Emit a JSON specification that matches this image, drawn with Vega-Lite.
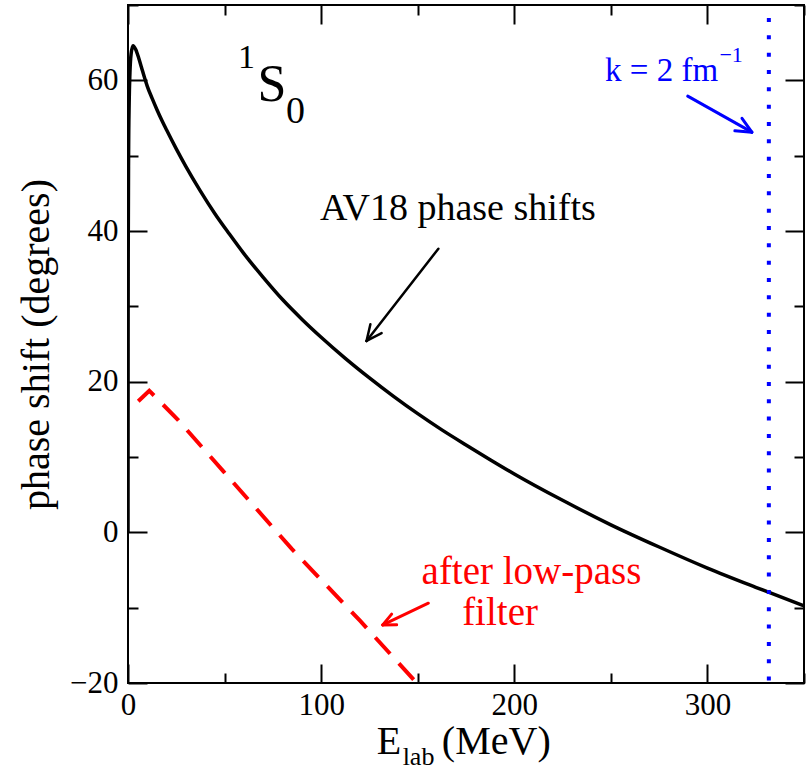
{
  "$schema": "https://vega.github.io/schema/vega-lite/v6.json",
  "width": 676,
  "height": 678,
  "autosize": {"type": "none"},
  "padding": {"left": 128, "top": 5, "right": 8, "bottom": 87},
  "background": "white",
  "config": {
    "view": {"stroke": "black", "strokeWidth": 2},
    "font": "'Liberation Serif', 'Times New Roman', serif"
  },
  "datasets": {
    "av18": [
      {"E": 0, "delta": 0},
      {"E": 0.05, "delta": 25},
      {"E": 0.1, "delta": 36},
      {"E": 0.3, "delta": 50},
      {"E": 0.6, "delta": 57},
      {"E": 1.0, "delta": 61},
      {"E": 1.6, "delta": 63.5},
      {"E": 2.6, "delta": 64.6},
      {"E": 4, "delta": 64.1},
      {"E": 5.5, "delta": 63.0},
      {"E": 7, "delta": 61.7},
      {"E": 8.5, "delta": 60.4},
      {"E": 10, "delta": 59.2},
      {"E": 12.5, "delta": 57.6},
      {"E": 15, "delta": 56.1},
      {"E": 17.5, "delta": 54.7},
      {"E": 20, "delta": 53.4},
      {"E": 25, "delta": 50.9},
      {"E": 30, "delta": 48.55},
      {"E": 37.5, "delta": 45.3},
      {"E": 45, "delta": 42.3},
      {"E": 52.5, "delta": 39.6},
      {"E": 60, "delta": 37.0},
      {"E": 70, "delta": 33.85},
      {"E": 80, "delta": 30.9},
      {"E": 90, "delta": 28.3},
      {"E": 100, "delta": 25.9},
      {"E": 112.5, "delta": 23.1},
      {"E": 125, "delta": 20.5},
      {"E": 137.5, "delta": 18.05},
      {"E": 150, "delta": 15.75},
      {"E": 162.5, "delta": 13.6},
      {"E": 175, "delta": 11.6},
      {"E": 187.5, "delta": 9.65},
      {"E": 200, "delta": 7.75},
      {"E": 225, "delta": 4.25},
      {"E": 250, "delta": 1.0},
      {"E": 275, "delta": -1.95},
      {"E": 300, "delta": -4.75},
      {"E": 325, "delta": -7.3},
      {"E": 350, "delta": -9.75}
    ],
    "filtered": [
      {"E": 5.3, "delta": 17.4},
      {"E": 11, "delta": 18.8},
      {"E": 26, "delta": 14.9},
      {"E": 49.4, "delta": 8.1},
      {"E": 84.8, "delta": -2.2},
      {"E": 120, "delta": -11.7},
      {"E": 149.5, "delta": -20}
    ]
  },
  "layer": [
    {
      "data": {"name": "av18"},
      "mark": {"type": "line", "color": "black", "strokeWidth": 3.5, "interpolate": "monotone", "clip": true},
      "encoding": {
        "x": {
          "field": "E", "type": "quantitative",
          "scale": {"domain": [0, 350], "nice": false, "zero": false},
          "axis": {
            "orient": "bottom",
            "values": [0, 50, 100, 150, 200, 250, 300, 350],
            "tickSize": {"expr": "datum.value % 100 === 0 ? -19 : -10"},
            "tickWidth": 2, "tickColor": "black",
            "domain": false, "grid": false,
            "labelExpr": "datum.value % 100 === 0 ? datum.label : ''",
            "labelFontSize": 31, "labelColor": "black",
            "labelPadding": 26, "labelFlush": false, "labelOverlap": false,
            "title": null
          }
        },
        "y": {
          "field": "delta", "type": "quantitative",
          "scale": {"domain": [-20, 70], "nice": false, "zero": false},
          "axis": {
            "orient": "left",
            "values": [-20, -10, 0, 10, 20, 30, 40, 50, 60, 70],
            "tickSize": {"expr": "datum.value % 20 === 0 ? -19 : -10"},
            "tickWidth": 2, "tickColor": "black",
            "domain": false, "grid": false,
            "labelExpr": "datum.value % 20 === 0 ? datum.label : ''",
            "labelFontSize": 31, "labelColor": "black",
            "labelPadding": 29, "labelFlush": false, "labelOverlap": false,
            "title": "phase shift (degrees)",
            "titleFontSize": 40, "titleFontWeight": "normal", "titleColor": "black",
            "titleAngle": -90, "titleAlign": "center", "titleBaseline": "alphabetic",
            "titleX": -80, "titleY": 339
          }
        }
      }
    },
    {
      "data": {"name": "filtered"},
      "mark": {"type": "line", "color": "#ff0000", "strokeWidth": 4, "strokeDash": [22, 13], "clip": true},
      "encoding": {
        "x": {
          "field": "E", "type": "quantitative",
          "axis": {
            "orient": "top",
            "values": [0, 50, 100, 150, 200, 250, 300, 350],
            "tickSize": {"expr": "datum.value % 100 === 0 ? -19 : -10"},
            "tickWidth": 2, "tickColor": "black",
            "domain": false, "grid": false, "labels": false, "title": null
          }
        },
        "y": {
          "field": "delta", "type": "quantitative",
          "axis": {
            "orient": "right",
            "values": [-20, -10, 0, 10, 20, 30, 40, 50, 60, 70],
            "tickSize": {"expr": "datum.value % 20 === 0 ? -19 : -10"},
            "tickWidth": 2, "tickColor": "black",
            "domain": false, "grid": false, "labels": false, "title": null
          }
        }
      }
    },
    {
      "data": {"values": [{"E": 331.8}]},
      "mark": {"type": "rule", "color": "#0000ff", "strokeWidth": 4, "strokeDash": [4, 13.33], "strokeDashOffset": 4.3},
      "encoding": {
        "x": {"field": "E", "type": "quantitative", "axis": null}
      }
    },
    {
      "data": {"values": [
        {"x1": 160.7, "y1": 37.65, "x2": 123.5, "y2": 25.41},
        {"x1": 131.3, "y1": 26.44, "x2": 123.5, "y2": 25.41},
        {"x1": 125.5, "y1": 27.62, "x2": 123.5, "y2": 25.41}
      ]},
      "mark": {"type": "rule", "color": "black", "strokeWidth": 2.5, "strokeCap": "round"},
      "encoding": {
        "x": {"field": "x1", "type": "quantitative", "axis": null},
        "y": {"field": "y1", "type": "quantitative", "axis": null},
        "x2": {"field": "x2"},
        "y2": {"field": "y2"}
      }
    },
    {
      "data": {"values": [
        {"x1": 289.8, "y1": 57.9, "x2": 323.0, "y2": 53.12},
        {"x1": 317.9, "y1": 54.96, "x2": 323.0, "y2": 53.12},
        {"x1": 314.2, "y1": 53.3, "x2": 323.0, "y2": 53.12}
      ]},
      "mark": {"type": "rule", "color": "#0000ff", "strokeWidth": 3, "strokeCap": "round"},
      "encoding": {
        "x": {"field": "x1", "type": "quantitative", "axis": null},
        "y": {"field": "y1", "type": "quantitative", "axis": null},
        "x2": {"field": "x2"},
        "y2": {"field": "y2"}
      }
    },
    {
      "data": {"values": [
        {"x1": 155.5, "y1": -9.41, "x2": 131.9, "y2": -12.29},
        {"x1": 139.1, "y1": -12.28, "x2": 131.9, "y2": -12.29},
        {"x1": 136.5, "y1": -10.86, "x2": 131.9, "y2": -12.29}
      ]},
      "mark": {"type": "rule", "color": "#ff0000", "strokeWidth": 3, "strokeCap": "round"},
      "encoding": {
        "x": {"field": "x1", "type": "quantitative", "axis": null},
        "y": {"field": "y1", "type": "quantitative", "axis": null},
        "x2": {"field": "x2"},
        "y2": {"field": "y2"}
      }
    },
    {
      "data": {"values": [
        {"E": 99.4, "d": 41.4, "t": "AV18 phase shifts"},
        {"E": 81.8, "d": 54.28, "t": "0"}
      ]},
      "mark": {"type": "text", "align": "left", "baseline": "alphabetic", "fontSize": 38, "color": "black"},
      "encoding": {
        "x": {"field": "E", "type": "quantitative", "axis": null},
        "y": {"field": "d", "type": "quantitative", "axis": null},
        "text": {"field": "t"}
      }
    },
    {
      "data": {"values": [{"E": 57.0, "d": 61.6, "t": "1"}]},
      "mark": {"type": "text", "align": "left", "baseline": "alphabetic", "fontSize": 34, "color": "black"},
      "encoding": {
        "x": {"field": "E", "type": "quantitative", "axis": null},
        "y": {"field": "d", "type": "quantitative", "axis": null},
        "text": {"field": "t"}
      }
    },
    {
      "data": {"values": [{"E": 67.1, "d": 57.2, "t": "S"}]},
      "mark": {"type": "text", "align": "left", "baseline": "alphabetic", "fontSize": 52, "color": "black"},
      "encoding": {
        "x": {"field": "E", "type": "quantitative", "axis": null},
        "y": {"field": "d", "type": "quantitative", "axis": null},
        "text": {"field": "t"}
      }
    },
    {
      "data": {"values": [{"E": 247.0, "d": 59.9, "t": "k = 2 fm"}]},
      "mark": {"type": "text", "align": "left", "baseline": "alphabetic", "fontSize": 33, "color": "#0000ff"},
      "encoding": {
        "x": {"field": "E", "type": "quantitative", "axis": null},
        "y": {"field": "d", "type": "quantitative", "axis": null},
        "text": {"field": "t"}
      }
    },
    {
      "data": {"values": [{"E": 306.2, "d": 62.4, "t": "−1"}]},
      "mark": {"type": "text", "align": "left", "baseline": "alphabetic", "fontSize": 22, "color": "#0000ff"},
      "encoding": {
        "x": {"field": "E", "type": "quantitative", "axis": null},
        "y": {"field": "d", "type": "quantitative", "axis": null},
        "text": {"field": "t"}
      }
    },
    {
      "data": {"values": [
        {"E": 152.0, "d": -6.9, "t": "after low-pass"},
        {"E": 173.0, "d": -12.34, "t": "filter"}
      ]},
      "mark": {"type": "text", "align": "left", "baseline": "alphabetic", "fontSize": 39, "color": "#ff0000"},
      "encoding": {
        "x": {"field": "E", "type": "quantitative", "axis": null},
        "y": {"field": "d", "type": "quantitative", "axis": null},
        "text": {"field": "t"}
      }
    },
    {
      "data": {"values": [
        {"E": 128.8, "d": -29.4, "t": "E"},
        {"E": 162.5, "d": -29.4, "t": "(MeV)"}
      ]},
      "mark": {"type": "text", "align": "left", "baseline": "alphabetic", "fontSize": 40, "color": "black"},
      "encoding": {
        "x": {"field": "E", "type": "quantitative", "axis": null},
        "y": {"field": "d", "type": "quantitative", "axis": null},
        "text": {"field": "t"}
      }
    },
    {
      "data": {"values": [{"E": 142.2, "d": -30.9, "t": "lab"}]},
      "mark": {"type": "text", "align": "left", "baseline": "alphabetic", "fontSize": 26, "color": "black"},
      "encoding": {
        "x": {"field": "E", "type": "quantitative", "axis": null},
        "y": {"field": "d", "type": "quantitative", "axis": null},
        "text": {"field": "t"}
      }
    }
  ],
  "resolve": {"axis": {"x": "independent", "y": "independent"}}
}
